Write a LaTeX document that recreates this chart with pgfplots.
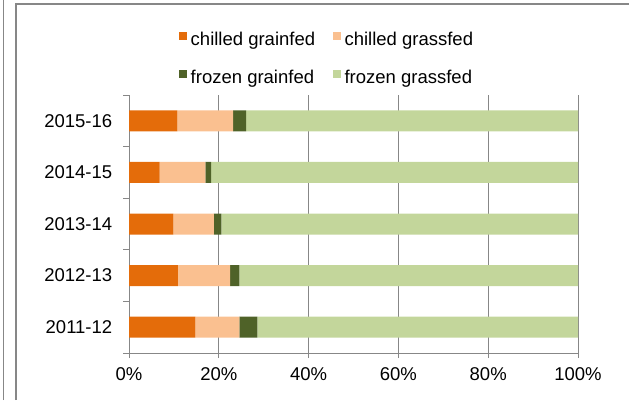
\documentclass[border=0pt]{standalone}
\usepackage{pgfplots}
\usepackage{pgfplotstable}
\pgfplotsset{compat=1.18}
\usepackage{fontspec}
\setmainfont{Liberation Sans}
\definecolor{cgrain}{HTML}{E46C0A}
\definecolor{cgrass}{HTML}{FAC090}
\definecolor{fgrain}{HTML}{4F6228}
\definecolor{fgrass}{HTML}{C3D69B}
\definecolor{gridc}{HTML}{878787}

\pgfplotstableread{
y cgrain cgrass fgrain fgrass
0 14.8 9.8 4.0 71.4
1 10.9 11.6 2.1 75.4
2 9.9 9.0 1.7 79.4
3 6.8 10.2 1.3 81.7
4 10.8 12.4 2.9 73.9
}\data

\begin{document}
\fontsize{18.5pt}{22pt}\selectfont
\begin{tikzpicture}[x=1pt,y=1pt]
\draw[gridc, line width=1.6pt] (3.5,0) -- (3.5,400);
\draw[gridc, line width=1.6pt] (15.8,0) -- (15.8,395.7) -- (640,395.7);
\begin{axis}[
  at={(129pt,47pt)}, anchor=south west,
  scale only axis, width=449pt, height=258pt,
  xbar stacked, bar width=21pt,
  xmin=0, xmax=100, ymin=-0.5, ymax=4.5,
  axis x line*=bottom, axis y line*=left,
  axis line style={-, gridc, line width=1pt},
  /pgf/number format/assume math mode=true,
  xtick={0,20,...,100},
  xticklabel={\pgfmathprintnumber{\tick}\%},
  xmajorgrids, grid style={gridc, line width=1pt},
  tick align=outside, major tick length=5pt, minor tick length=6pt,
  tick style={gridc, line width=1pt},
  every major y tick/.style={draw=none},
  ytick={0,1,2,3,4},
  yticklabels={2011-12,2012-13,2013-14,2014-15,2015-16},
  minor ytick={-0.5,0.5,1.5,2.5,3.5,4.5},
  yticklabel style={inner sep=0pt, xshift=-11.6pt},
  xticklabel style={inner sep=0pt, yshift=-9.5pt},
  legend columns=2,
  legend cell align=left,
  legend image code/.code={\fill[#1] (0pt,1pt) rectangle (8pt,9pt);},
  legend style={at={(0.1114,1.2442)}, anchor=north west, draw=none, fill=none,
    inner sep=0pt, outer sep=0pt, row sep=20pt,
    nodes={inner sep=0pt, text height=13pt, text depth=4pt},
    /tikz/every odd column/.append style={column sep=3.7pt},
    /tikz/every even column/.append style={column sep=17.7pt}},
]
\addplot[fill=cgrain, draw=none] table[x=cgrain, y=y] {\data};
\addplot[fill=cgrass, draw=none] table[x=cgrass, y=y] {\data};
\addplot[fill=fgrain, draw=none] table[x=fgrain, y=y] {\data};
\addplot[fill=fgrass, draw=none] table[x=fgrass, y=y] {\data};
\legend{chilled grainfed, chilled grassfed, frozen grainfed, frozen grassfed}
\end{axis}
\pgfresetboundingbox
\useasboundingbox (0,0) rectangle (629,400);
\end{tikzpicture}
\end{document}
